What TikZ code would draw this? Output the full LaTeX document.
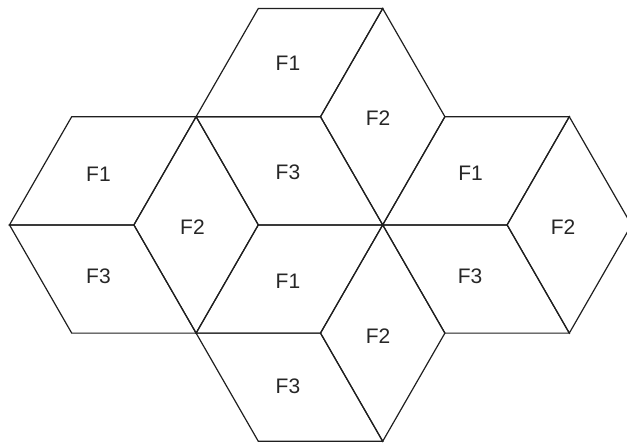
\documentclass[tikz,border=0pt]{standalone}
\usepackage{fontspec}
\setmainfont{Liberation Sans}
\begin{document}
\begin{tikzpicture}[x=1pt,y=-1pt,
  face/.style={draw=black!88, line width=1.2pt, line join=miter},
  lbl/.style={font=\fontsize{21}{24}\selectfont, text=black!85, inner sep=0pt}]
\useasboundingbox (0,0) rectangle (627,444);
\begin{scope}[shift={(9.5,8.5)}, x=62.2pt, y=-108.2pt]
  % left cube
  \draw[face] (0,2) -- (1,1) -- (3,1) -- (2,2) -- cycle;
  \draw[face] (2,2) -- (3,1) -- (4,2) -- (3,3) -- cycle;
  \draw[face] (0,2) -- (2,2) -- (3,3) -- (1,3) -- cycle;
  % top cube
  \draw[face] (3,1) -- (4,0) -- (6,0) -- (5,1) -- cycle;
  \draw[face] (5,1) -- (6,0) -- (7,1) -- (6,2) -- cycle;
  \draw[face] (3,1) -- (5,1) -- (6,2) -- (4,2) -- cycle;
  % right cube
  \draw[face] (6,2) -- (7,1) -- (9,1) -- (8,2) -- cycle;
  \draw[face] (8,2) -- (9,1) -- (10,2) -- (9,3) -- cycle;
  \draw[face] (6,2) -- (8,2) -- (9,3) -- (7,3) -- cycle;
  % bottom cube
  \draw[face] (3,3) -- (4,2) -- (6,2) -- (5,3) -- cycle;
  \draw[face] (5,3) -- (6,2) -- (7,3) -- (6,4) -- cycle;
  \draw[face] (3,3) -- (5,3) -- (6,4) -- (4,4) -- cycle;
\end{scope}
% labels
\node[lbl] (t1) at (288,63.5) {F1};
\node[lbl] (t2) at (378,118) {F2};
\node[lbl] (t3) at (288,172) {F3};
\node[lbl] (l1) at (98.5,174) {F1};
\node[lbl] (l2) at (192.5,227) {F2};
\node[lbl] (l3) at (98.5,276.5) {F3};
\node[lbl] (r1) at (470.5,173.5) {F1};
\node[lbl] (r2) at (563,227) {F2};
\node[lbl] (r3) at (470,276) {F3};
\node[lbl] (b1) at (288,281.5) {F1};
\node[lbl] (b2) at (378,336.5) {F2};
\node[lbl] (b3) at (288,386.5) {F3};
\end{tikzpicture}
\end{document}
